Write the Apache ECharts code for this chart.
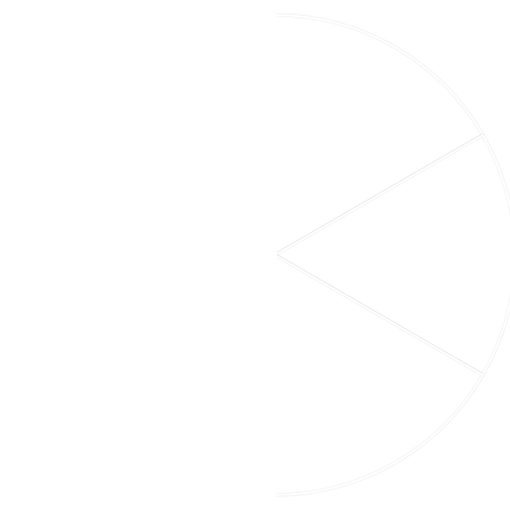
<!DOCTYPE html>
<html><head><meta charset="utf-8">
<script src="https://cdn.jsdelivr.net/npm/echarts@6/dist/echarts.min.js"></script>
<style>html,body{margin:0;padding:0;background:#fff}#c{width:510px;height:510px}</style>
</head><body><div id="c"></div>
<script>
var categories = ['A', 'B', 'C'];
var values = [1, 1, 1];
var total = values.reduce(function(s, v){ return s + v; }, 0);
var data = categories.map(function(n, i){ return { name: n, value: values[i] }; });
data.push({ name: '', value: total, itemStyle: { color: '#ffffff', borderColor: '#ffffff', borderWidth: 4, shadowBlur: 0, shadowColor: 'transparent' }, label: { show: false }, emphasis: { disabled: true } });
var chart = echarts.init(document.getElementById('c'), null, { renderer: 'canvas' });
chart.setOption({
  backgroundColor: '#fff',
  animation: false,
  series: [{
    type: 'pie',
    center: [275, 255],
    radius: [0, 240],
    startAngle: 90,
    clockwise: true,
    label: { show: false },
    labelLine: { show: false },
    itemStyle: {
      color: '#ffffff',
      borderColor: '#ffffff',
      borderWidth: 2,
      shadowBlur: 2,
      shadowColor: 'rgba(0,0,0,0.12)'
    },
    data: data
  }]
});
</script></body></html>
